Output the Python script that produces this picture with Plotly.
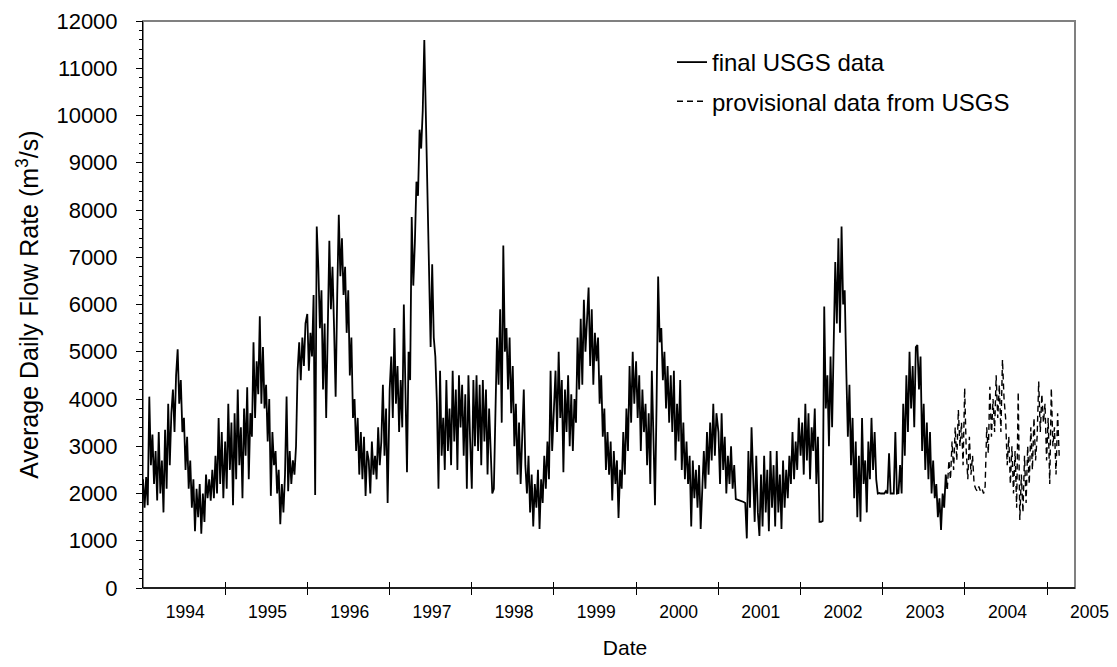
import pandas as pd
import plotly.graph_objects as go

# ---- data: approximate weekly values (m^3/s) ----
final_1994 = [2300,1700,2350,1750, 4050,2600,3250,2200, 2900,1850,3300,2000,2700,
              1600,3350,2100,3900, 2600,3700,4200,3300,4500, 5050,3900,4400,3300,
              3600,2500,3200,2100, 2700,1700,2300,1200,2100, 1500,2200,1150,2000,
              1400,2400,1900,2300,1850, 2500,1900,2800,2000, 3600,2200,3300,1900]
final_1995 = [3100,2100,3900,2500, 3500,1750,3700,2300, 4200,2600,3400,1900,3800,
              2800,4250,2300,3700, 3200,5200,3600,4800,4100, 5750,3900,5100,3800,
              4300,3100,4000,1950, 3300,2600,2900,2000,2500, 1350,2200,1600,2400,
              4050,2050,2900,2200,2700, 2400,3000,4600,5200, 4400,5300,4700,5600]
final_1996 = [5800,4600,5400,4900, 6200,1970,7650,6800, 5500,6300,4200,5600,3600,
              5400,7350,5900,6800, 5500,4050,6200,7900,6600, 7400,6200,6800,5400,
              6300,4500,5300,3600, 4000,2900,3600,2400,3300, 2300,3200,1950,2900,
              2700,2000,3100,2400,2800, 2300,3400,2600,3100, 4300,2800,3800,1800]
final_1997 = [4200,4900,3600,5500, 3900,4700,3300,4400, 3400,6000,3800,2450,5000,
              4400,7850,6400,7300, 8600,8300,9700,9300,10100, 11600,9900,7800,6800,
              5100,6850,5300,4900, 3900,2100,4600,2800,3600, 2500,4400,2900,3800,
              2600,4600,3100,4200,2500, 4500,3400,4300,2800, 4100,2100,4500,3200]
final_1998 = [2100,4400,3000,4500, 2900,4300,2600,4400, 3100,4200,2400,3800,2900,
              2000,2100,3800,5300, 4300,5900,3500,7250,5000, 5500,4200,5300,3700,
              4700,3000,3900,2400, 3500,2200,3100,4200,2600, 2000,2800,1600,2400,
              1300,2200,1700,2500,1250, 2300,1800,2800,2100, 3100,2300,4600,2900]
final_1999 = [3800,4600,3300,5000, 3600,4400,2450,4200, 3300,4500,3000,4100,2900,
              4000,3500,5300,4200, 5700,4300,6100,5000,5600, 6360,4700,5900,4300,
              5400,4800,5300,3900, 4500,3200,3800,2500,3300, 2400,3100,1850,2900,
              2200,2700,1480,2500,2100, 3300,2400,3800,2900, 4700,3500,5000,3900]
final_2000 = [4800,3600,4500,2900, 4200,3300,3900,2600, 3700,2200,4600,3200,1750,
              3900,6590,5200,5500, 4400,5000,3800,4700,3500, 4500,3300,4600,2700,
              3900,3100,4400,2500, 3500,2300,3100,2200,2800, 1300,2700,1900,2500,
              1700,2600,1250,2200,2900, 2100,3300,2400,3500, 2700,3900,2800,3700]
final_2001 = [3300,2200,3700,2500, 3200,2000,2800,2200, 3000,2100,2600,1880,1870,
              1860,1850,1840,1820, 1800,1050,2900,1700,3400, 2200,1400,2800,1600,
              1100,2400,1300,2800, 1600,2500,1200,2900,1700, 2600,1300,2900,1600,
              2400,1250,2700,1700,2500, 1900,2800,2200,3300, 2300,3100,2500,3600]
final_2002 = [2800,3500,2400,3900, 2700,3700,2300,3400, 2900,3800,2200,3200,1400,
              1400,1420,5960,3800, 4500,3000,4900,3400,5300, 6900,5600,7400,5400,
              7650,6000,6300,4600, 3200,4300,2600,3600,1900, 3100,1500,2800,1400,
              3600,2200,2700,1600,3100, 2300,3600,2500,3300, 2300,2000,2010,2000]
final_2003 = [2000,2000,2050,2000, 2850,2000,2000,2000, 3300,2000,2010,2600,2000,
              3900,2800,4500,3300, 5000,3800,4700,3400,5100, 5140,4200,4900,2900,
              3900,2500,3500,2300, 3300,2000,2700,1900,2200, 1500,1900,1230,2000,
              1700,2400,2100]
final_years = [1994, 1995, 1996, 1997, 1998, 1999, 2000, 2001, 2002, 2003]
final_by_year = [final_1994, final_1995, final_1996, final_1997, final_1998,
                 final_1999, final_2000, final_2001, final_2002, final_2003]

provisional_start = "2003-10-15"
provisional = [2100,2700,2300,3100,2500,3400,2700,3770,3000,3500,2600,4230,
               2900,2300,3200,2400,2800,2200,
               2100,2050,2150,2050,2100,2000,2150,
               3400,2850,4260,3200,
               4000,3300,4500,3600,4300,3300,4830,4000,
               3600,2600,3200,2200,3000,2000,2900,1700,4150,1440,2400,1600,2800,1800,
               3000,2200,3400,2500,3600,2700,3200,4370,3300,4100,3500,3900,
               2700,3600,2200,4230,3000,3400,2400,3700,2800]

year_labels = ["1994","1995","1996","1997","1998","1999","2000","2001","2002","2003","2004","2005"]

# ---- build x (weekly dates within each year) ----
fx, fy = [], []
for yr, vals in zip(final_years, final_by_year):
    start = pd.Timestamp(f"{yr}-01-01")
    for k, v in enumerate(vals):
        fx.append(start + pd.Timedelta(days=7 * k))
        fy.append(v)
px_ = [pd.Timestamp(provisional_start) + pd.Timedelta(days=7 * k) for k in range(len(provisional))]

# ---- geometry (page body has an 8px margin) ----
W, H = 1101, 651
ML, MR, MT, MB = 135, 2, 13, 71
plot_w = W - ML - MR          # 964 px of paper
frame_w = 932                 # visible framed plot width
dframe = frame_w / plot_w
d0 = pd.Timestamp("1994-01-01")
px_per_day = 82.2 / 365.25
far_end = d0 + pd.Timedelta(days=plot_w / px_per_day)
year_ticks = [pd.Timestamp(f"{y}-01-01") for y in range(1995, 2006)]
label_pos = [pd.Timestamp(f"{y}-07-08") for y in range(1994, 2006)]

FONT = "Arial, Liberation Sans, sans-serif"

fig = go.Figure()
fig.add_trace(go.Scatter(x=fx, y=fy, mode="lines", name="final USGS data",
                         line=dict(color="black", width=1.8), legendgroup="a"))
fig.add_trace(go.Scatter(x=px_, y=provisional, mode="lines", name="provisional data from USGS",
                         line=dict(color="black", width=1.4, dash="6px,4px"), legendgroup="b"))
# invisible helpers so the overlaying label/tick axes are drawn
fig.add_trace(go.Scatter(x=[d0, far_end], y=[0, 0], xaxis="x2", mode="markers",
                         marker=dict(opacity=0), showlegend=False, hoverinfo="skip"))
fig.add_trace(go.Scatter(x=[d0, far_end], y=[0, 0], xaxis="x3", mode="markers",
                         marker=dict(opacity=0), showlegend=False, hoverinfo="skip"))

common_x = dict(type="date", range=[d0, far_end], automargin=False,
                showgrid=False, zeroline=False)

fig.update_layout(
    width=W, height=H,
    margin=dict(l=ML, r=MR, t=MT, b=MB, autoexpand=False),
    paper_bgcolor="white", plot_bgcolor="white",
    font=dict(family=FONT, color="black"),
    showlegend=True,
    legend=dict(x=(672 - 143) / plot_w, y=1 - 19 / 567, xanchor="left", yanchor="top",
                font=dict(size=24, family=FONT), bgcolor="rgba(0,0,0,0)",
                tracegroupgap=5, itemwidth=30),
    xaxis=dict(**common_x, domain=[0, 1],
               tickmode="array", tickvals=year_ticks, showticklabels=False,
               ticks="outside", ticklen=6, tickcolor="black", tickwidth=1,
               showline=False,
               title=dict(text="Date", font=dict(size=21, family=FONT), standoff=48)),
    xaxis2=dict(**common_x, overlaying="x", anchor="y", side="bottom",
                tickmode="array", tickvals=label_pos, ticktext=year_labels,
                ticks="", showline=False, ticklabeloverflow="allow",
                tickfont=dict(size=17.5, family=FONT), ticklabelstandoff=11),
    xaxis3=dict(**common_x, overlaying="x", anchor="y", side="bottom",
                tickmode="array", tickvals=year_ticks, showticklabels=False,
                ticks="inside", ticklen=6, tickcolor="black", tickwidth=1,
                showline=False),
    yaxis=dict(range=[0, 12000], tickmode="linear", tick0=0, dtick=1000, tickformat="d",
               automargin=False,
               ticks="outside", ticklen=6, tickcolor="black", tickwidth=1,
               minor=dict(dtick=200, ticks="outside", ticklen=3, tickcolor="black", tickwidth=1),
               showline=True, linecolor="black", linewidth=1,
               showgrid=False, zeroline=False, ticklabelstandoff=14,
               tickfont=dict(size=22, family=FONT),
               title=dict(text="Average Daily Flow Rate (m<sup>3</sup>/s)",
                          font=dict(size=25, family=FONT), standoff=10)),
    shapes=[
        # gray plot-area frame (top/right)
        dict(type="rect", xref="paper", yref="paper", x0=0, x1=dframe, y0=0, y1=1,
             line=dict(color="#808080", width=2), layer="below"),
        # black category axis line along the bottom of the frame
        dict(type="line", xref="paper", yref="paper", x0=0, x1=dframe, y0=0, y1=0,
             line=dict(color="black", width=1.5), layer="above"),
    ],
)

fig.write_html("out.html")
